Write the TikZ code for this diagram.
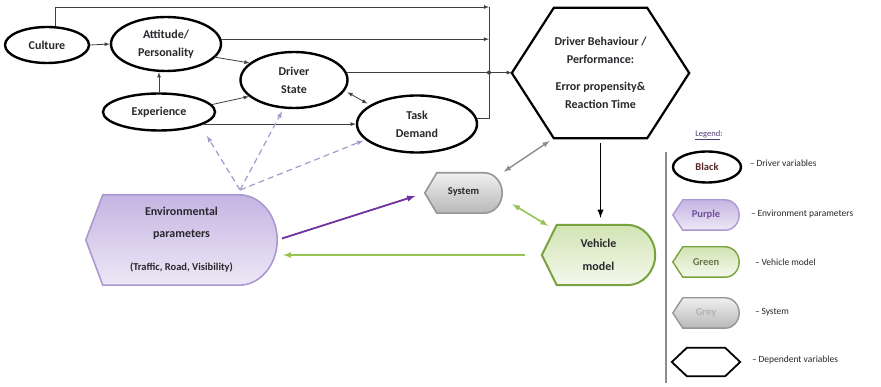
\documentclass[tikz,border=0pt]{standalone}
\usepackage{fontspec}
\setmainfont{Carlito}
\usepackage{tikz}
\usetikzlibrary{arrows,calc,shapes,backgrounds}

\definecolor{txt}{RGB}{40,40,45}
\definecolor{envfill}{RGB}{196,180,226}
\definecolor{envline}{RGB}{172,152,210}
\definecolor{envarrow}{RGB}{112,48,160}
\definecolor{vehfill}{RGB}{210,228,180}
\definecolor{vehline}{RGB}{120,162,62}
\definecolor{vehgreen}{RGB}{150,196,84}
\definecolor{sysline}{RGB}{150,150,150}
\definecolor{dashline}{RGB}{168,152,204}
\definecolor{legendc}{RGB}{80,60,120}

\newcommand\nodefont{\bfseries\fontsize{12}{18}\selectfont}
\newcommand\legfont{\bfseries\fontsize{10.5}{12}\selectfont}
\tikzstyle{driver} = [ellipse, draw=black, line width=2.4pt, fill=white, align=center,
  inner sep=0pt, font=\nodefont, text=txt]
\tikzstyle{tag} = [rectangle, inner sep=0pt, align=center, font=\nodefont, text=txt]
\tikzstyle{legtext} = [anchor=west, inner sep=0pt, font=\fontsize{9.5}{11}\selectfont, text=txt]

% left point, rounded right side: #1 node, #2 tip, #3 round, #4 style
\newcommand{\tagpath}[4]{%
  \draw[#4] (#1.west) -- ($(#1.north west)+(#2,0)$)
    -- ($(#1.north east)+(-#3,0)$)
    .. controls ($(#1.north east)+(-0.45*#3,0)$) and ($(#1.east)!0.55!(#1.north east)$) .. (#1.east)
    .. controls ($(#1.east)!0.55!(#1.south east)$) and ($(#1.south east)+(-0.45*#3,0)$) .. ($(#1.south east)+(-#3,0)$)
    -- ($(#1.south west)+(#2,0)$) -- cycle;}
% hexagon round a node: #1 node, #2 cut, #3 style
\newcommand{\hexpath}[3]{%
  \draw[#3] (#1.west) -- ($(#1.north west)+(#2,0)$) -- ($(#1.north east)+(-#2,0)$)
    -- (#1.east) -- ($(#1.south east)+(-#2,0)$) -- ($(#1.south west)+(#2,0)$) -- cycle;}

\begin{document}
\begin{tikzpicture}[x=1pt, y=-1pt,
  link/.style={draw=black!75, line width=0.8pt, -latex},
  plain/.style={draw=black!75, line width=0.8pt},
  envlink/.style={draw=dashline, dash pattern=on 6pt off 4pt, line width=1.2pt, -latex}]
\useasboundingbox (0,0) rectangle (881,387);

\node[driver, minimum width=84, minimum height=36] (culture) at (47,45) {Culture};
\node[driver, minimum width=110, minimum height=54] (attitude) at (166,44) {Attitude/\\Personality};
\node[driver, minimum width=112, minimum height=37] (experience) at (159,112) {Experience};
\node[driver, minimum width=107, minimum height=56] (state) at (294,80) {Driver\\State};
\node[driver, minimum width=120, minimum height=57] (task) at (417,124) {Task\\Demand};

\node[tag, minimum width=177, minimum height=130] (behav) at (600.5,73)
  {Driver Behaviour /\\Performance:\\[9pt]Error propensity\&\\Reaction Time};
\node[tag, minimum width=191, minimum height=90] (env) at (181.5,240)
  {Environmental\\[4pt]parameters\\[15pt]{\fontsize{10.5}{10}\selectfont(Traffic, Road, Visibility)}};
\node[tag, minimum width=77, minimum height=40, font=\legfont] (system) at (463.5,193)
  {\raisebox{4pt}{System}};
\node[tag, minimum width=113, minimum height=60] (vehicle) at (598.5,255) {Vehicle\\[5pt]model};

\coordinate (bus) at (489,7);
\draw[link] (culture.65) |- (bus);
\draw[plain] (bus) -- (bus |- task.5) -- (task.5);
\draw[link] (attitude.5) -- (attitude.5 -| bus);
\draw[link] (state.8) -- (state.8 -| behav.west);
\fill[black!75] (state.8 -| bus) circle (2);

\draw[link] (culture.east) -- (attitude.west);
\draw[link] (experience.north) -- (experience.north |- attitude.south);
\draw[link] (attitude.-15) -- (state.159);
\draw[link] (experience.8) -- (state.200);
\draw[link] (experience.-15) -- (experience.-15 -| task.west);
\draw[plain, latex-latex, shorten <=3pt, shorten >=3pt] (state.-12) -- (task.158);

\coordinate (apex) at (240,190);
\draw[envlink, shorten >=12pt] (apex) -- (experience.-18);
\draw[envlink, shorten >=3pt] (apex) -- (state.250);
\draw[envlink, shorten >=2pt] (apex) -- (task.197);

\draw[draw=envarrow, line width=1.8pt, -latex, shorten <=5pt, shorten >=10pt] (env.east) -- (system.west);
\draw[draw=vehgreen, line width=1.6pt, -latex, shorten <=17pt, shorten >=6pt] (vehicle.west) -- (env.east |- vehicle.west);
\draw[draw=vehgreen, line width=1.6pt, latex-latex, shorten <=12pt, shorten >=2pt] ($(system.east)+(0,5)$) -- ($(vehicle.north west)+(8,2)$);
\draw[draw=black!45, line width=1.4pt, latex-latex, shorten <=2pt, shorten >=5pt] (system.north east) -- ($(behav.south west)+(42,0)$);
\draw[black, line width=1.8pt, -latex, shorten <=5pt, shorten >=7pt] (behav.south) -- (behav.south |- vehicle.north);

% legend
\coordinate (legtop) at (666,152);
\coordinate (legbot) at (666,383);
\draw[black!45, line width=1.2pt] (legtop) -- (legbot);
\node[font=\fontsize{8.5}{9}\selectfont, text=legendc] (legtitle) at (709,135) {\underline{Legend}:};
\node[driver, minimum width=68, minimum height=31, font=\legfont, text={rgb,255:red,90;green,40;blue,40}] (leg1) at (707,167) {Black};
\node[tag, minimum width=66, minimum height=30, font=\legfont, text={rgb,255:red,110;green,80;blue,160}] (leg2) at (706,215) {Purple};
\node[tag, minimum width=66, minimum height=30, font=\legfont, text={rgb,255:red,100;green,120;blue,70}] (leg3) at (706,262) {Green};
\node[tag, minimum width=66, minimum height=30, font=\legfont, text=black!30] (leg4) at (706,313) {Grey};
\node[tag, minimum width=68, minimum height=28] (leg5) at (706,362) {};
\node[legtext] (lt1) at (750,163) {--\,Driver variables};
\node[legtext] (lt2) at (751,214) {--\,Environment parameters};
\node[legtext] (lt3) at (755,262) {--\,Vehicle model};
\node[legtext] (lt4) at (755,312) {--\,System};
\node[legtext] (lt5) at (752,360) {--\,Dependent variables};

\begin{scope}[on background layer]
  \hexpath{behav}{42}{draw=black, line width=2.2pt, fill=white}
  \tagpath{env}{17}{38}{draw=envline, line width=1.6pt, top color=envfill, bottom color=envfill!30}
  \tagpath{system}{12}{18}{draw=sysline, line width=1.6pt, top color=black!6, bottom color=black!28}
  \tagpath{vehicle}{15}{28}{draw=vehline, line width=2pt, top color=vehfill, bottom color=vehfill!25}
  \tagpath{leg2}{10}{14}{draw=envline, line width=1.4pt, top color=envfill, bottom color=envfill!30}
  \tagpath{leg3}{10}{14}{draw=vehline, line width=1.4pt, top color=vehfill, bottom color=vehfill!25}
  \tagpath{leg4}{10}{14}{draw=sysline, line width=1.4pt, top color=black!6, bottom color=black!28}
  \hexpath{leg5}{15}{draw=black, line width=1.8pt, fill=white}
\end{scope}
\end{tikzpicture}
\end{document}
